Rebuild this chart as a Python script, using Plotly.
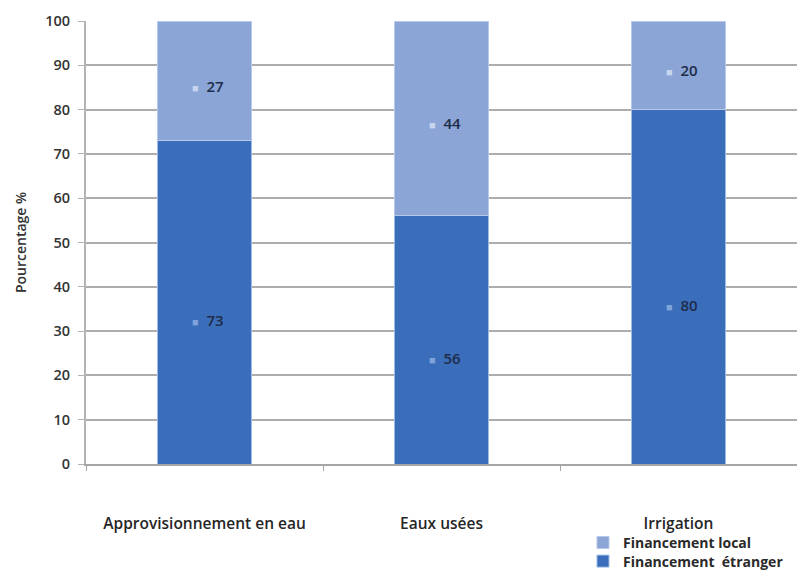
import plotly.graph_objects as go

categories = ["Approvisionnement en eau", "Eaux usées", "Irrigation"]
financement_etranger = [73, 56, 80]
financement_local = [27, 44, 20]
y_ticks = [0, 10, 20, 30, 40, 50, 60, 70, 80, 90, 100]

font_family = "Open Sans, Liberation Sans, sans-serif"
text_dark = "#333333"

fig = go.Figure()
fig.add_trace(go.Bar(
    x=categories,
    y=financement_etranger,
    name="Financement  étranger",
    legend="legend2",
    marker=dict(color="#3a6dba", line=dict(color="#9dbbe6", width=1)),
    hoverinfo="skip",
))
fig.add_trace(go.Bar(
    x=categories,
    y=financement_local,
    name="Financement local",
    legend="legend",
    marker=dict(color="#8aa5d6", line=dict(color="#b6c9ea", width=1)),
    hoverinfo="skip",
))

# value labels with a small key square, placed in each stacked segment
series = [
    (financement_etranger, [0, 0, 0], "#7fa4dc", -18),
    (financement_local, financement_etranger, "#c8d5ee", -5),
]
for values, bases, square_color, shift in series:
    for cat, v, b in zip(categories, values, bases):
        fig.add_annotation(
            x=cat, y=b + v / 2, xref="x", yref="y",
            text=f"<span style='color:{square_color};font-size:11px'>■</span>&nbsp;&nbsp;{v}",
            showarrow=False, xshift=3, yshift=shift,
            font=dict(family=font_family, size=15, color="#1e2c48", weight=600),
        )

legend_style = dict(
    xanchor="left", yanchor="top",
    font=dict(family=font_family, size=14, color="#2a2a2a", weight=700),
    itemwidth=30,
    bgcolor="rgba(0,0,0,0)",
)

fig.update_layout(
    width=797,
    height=575,
    barmode="stack",
    bargap=0.6,
    paper_bgcolor="white",
    plot_bgcolor="white",
    margin=dict(l=86, r=0, t=21, b=111, autoexpand=False),
    font=dict(family=font_family, size=12, color=text_dark),
    showlegend=True,
    legend=dict(x=0.699, y=-0.142, **legend_style),
    legend2=dict(x=0.699, y=-0.184, **legend_style),
    xaxis=dict(
        range=[-0.5, 2.5],
        automargin=False,
        showgrid=False,
        showline=True,
        linecolor="#a6a6a6",
        linewidth=1.5,
        ticks="outside",
        tickson="boundaries",
        ticklen=5,
        tickcolor="#a6a6a6",
        ticklabelstandoff=45,
        tickfont=dict(family=font_family, size=15.5, color="#262626", weight=600),
    ),
    yaxis=dict(
        range=[0, 100],
        automargin=False,
        tickvals=y_ticks,
        showgrid=True,
        gridcolor="#adadad",
        gridwidth=1.5,
        showline=True,
        linecolor="#b3b3b3",
        linewidth=2,
        ticks="outside",
        ticklen=6,
        tickcolor="#b3b3b3",
        zeroline=False,
        ticklabelstandoff=5,
        tickfont=dict(family=font_family, size=14.5, color=text_dark, weight=600),
        title=dict(text="Pourcentage %", standoff=15,
                   font=dict(family=font_family, size=14, color=text_dark, weight=600)),
    ),
)

fig.write_html("out.html")
